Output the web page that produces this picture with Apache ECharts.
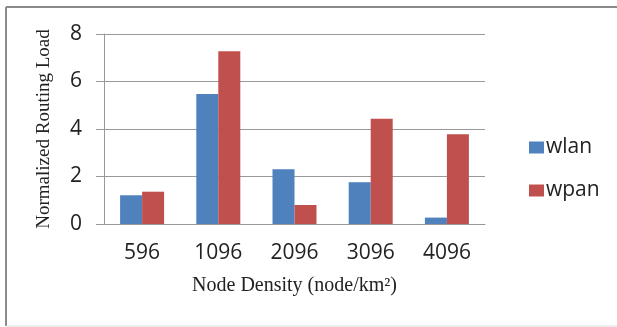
<!DOCTYPE html>
<html>
<head>
<meta charset="utf-8">
<script src="https://cdn.jsdelivr.net/npm/echarts@6/dist/echarts.min.js"></script>
<style>
html,body{margin:0;padding:0;background:#fff;}
#c{width:617px;height:327px;}
</style>
</head>
<body>
<div id="c"></div>
<script>
const categories = ['596', '1096', '2096', '3096', '4096'];
const wlan = [1.21, 5.47, 2.31, 1.76, 0.27];
const wpan = [1.36, 7.27, 0.80, 4.43, 3.78];
const yTicks = { min: 0, max: 8, interval: 2 };

const chart = echarts.init(document.getElementById('c'), null, { renderer: 'canvas' });
const sans = 'Open Sans';
const serif = 'Liberation Serif';
chart.setOption({
  animation: false,
  backgroundColor: '#fff',
  color: ['#4F81BD', '#C0504D'],
  graphic: [
    { type: 'line', shape: { x1: 6, y1: 7, x2: 617, y2: 7 }, style: { stroke: '#8a8a8a', lineWidth: 2 } },
    { type: 'line', shape: { x1: 6, y1: 7, x2: 6, y2: 326 }, style: { stroke: '#8a8a8a', lineWidth: 2 } },
    { type: 'line', shape: { x1: 6, y1: 326, x2: 617, y2: 326 }, style: { stroke: '#dcdcdc', lineWidth: 1 } }
  ],
  grid: { left: 104, right: 132, top: 34, bottom: 103 },
  legend: {
    orient: 'vertical',
    left: 524,
    top: 132,
    itemWidth: 15,
    itemHeight: 12,
    itemGap: 22,
    icon: 'rect',
    textStyle: { fontFamily: sans, fontSize: 21, color: '#222', padding: [0, 0, 0, -3] },
    data: ['wlan', 'wpan']
  },
  xAxis: {
    type: 'category',
    data: categories,
    name: 'Node Density (node/km²)',
    nameLocation: 'middle',
    nameGap: 52,
    nameTextStyle: { fontFamily: serif, fontSize: 20, color: '#222' },
    axisLine: { lineStyle: { color: '#999', width: 1 } },
    axisTick: { show: false },
    axisLabel: { fontFamily: sans, fontSize: 21, color: '#222', margin: 19 }
  },
  yAxis: {
    type: 'value',
    min: yTicks.min,
    max: yTicks.max,
    interval: yTicks.interval,
    name: 'Normalized Routing Load',
    nameLocation: 'middle',
    nameGap: 50,
    nameTextStyle: { fontFamily: serif, fontSize: 19, color: '#222' },
    axisLine: { show: true, lineStyle: { color: '#999', width: 1 } },
    axisTick: { show: true, length: 8, lineStyle: { color: '#999' } },
    axisLabel: { fontFamily: sans, fontSize: 21, color: '#222', margin: 22 },
    splitLine: { lineStyle: { color: '#999', width: 1 } }
  },
  series: [
    { name: 'wlan', type: 'bar', data: wlan, barWidth: 22, barGap: '0%' },
    { name: 'wpan', type: 'bar', data: wpan, barWidth: 22, barGap: '0%' }
  ]
});
</script>
</body>
</html>
